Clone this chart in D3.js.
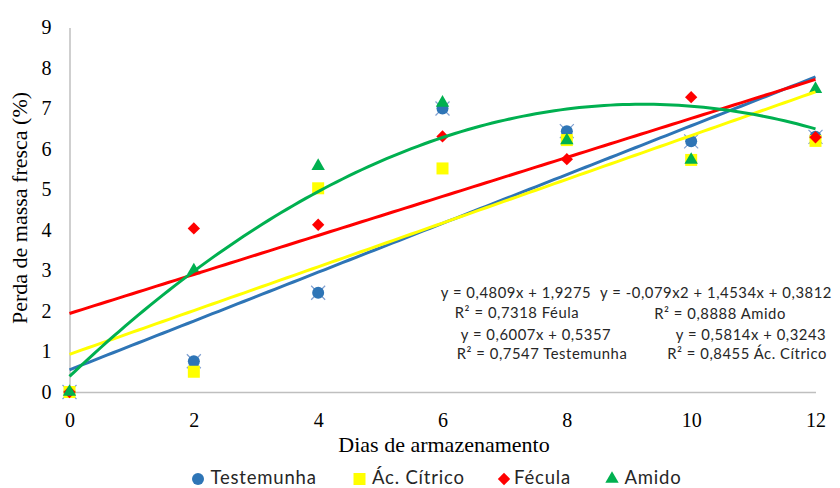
<!DOCTYPE html>
<html><head><meta charset="utf-8">
<script src="https://cdn.jsdelivr.net/npm/d3@7"></script>
<style>body{margin:0;background:#fff}svg{display:block}</style>
</head><body><svg id="c" width="840" height="488"></svg>
<script>
// ---- data ----
const days = [0, 2, 4, 6, 8, 10, 12];
const testemunha = [0, 0.76, 2.45, 7.0, 6.44, 6.19, 6.3];
const acCitrico  = [0, 0.5, 5.03, 5.52, 6.22, 5.73, 6.2];
const fecula     = [0, 4.04, 4.13, 6.31, 5.75, 7.28, 6.29];
const amido      = [0, 3.0, 5.58, 7.14, 6.21, 5.73, 7.48];
const yTicks = [0, 1, 2, 3, 4, 5, 6, 7, 8, 9];
const xTicks = [0, 2, 4, 6, 8, 10, 12];
const seriesNames = ["Testemunha", "Ác. Cítrico", "Fécula", "Amido"];
const equationTexts = [
  "y = 0,4809x + 1,9275", "R² = 0,7318 Féula",
  "y = 0,6007x + 0,5357", "R² = 0,7547 Testemunha",
  "y = -0,079x2 + 1,4534x + 0,3812", "R² = 0,8888 Amido",
  "y = 0,5814x + 0,3243", "R² = 0,8455 Ác. Cítrico"
];
const xTitle = "Dias de armazenamento";
const yTitle = "Perda de massa fresca (%)";

// ---- styles / layout ----
const colors = ["#2E75B6", "#FFFF00", "#FF0000", "#00B050"];
const eqPos = [[516, 293], [517, 313], [536, 335], [542, 354],
               [716, 293], [720, 314], [751, 335], [747, 354]];
const legendX = [198, 359.5, 504, 612];
const serif = "'Liberation Serif','Times New Roman',serif";
const sans = "Lato,'Noto Sans',sans-serif";

const svg = d3.select("#c");
svg.append("rect").attr("width", 840).attr("height", 488).attr("fill", "#fff");

const x = d3.scaleLinear().domain([0, 12]).range([69.5, 815.5]);
const y = d3.scaleLinear().domain([0, 9]).range([392, 27.5]);

// axes
const gx = svg.append("g").attr("transform", "translate(0,392)")
  .call(d3.axisBottom(x).tickValues(xTicks).tickSize(0).tickPadding(21).tickFormat(d3.format("d")));
const gy = svg.append("g").attr("transform", "translate(69.5,0)")
  .call(d3.axisLeft(y).tickValues(yTicks).tickSize(0).tickPadding(18).tickFormat(d3.format("d")));
[gx, gy].forEach(g => {
  g.select(".domain").attr("stroke", "#BFBFBF").attr("stroke-width", 1.5);
  g.selectAll("text").attr("font-family", serif).attr("font-size", 20).attr("fill", "#000");
});

svg.append("text").attr("x", 444).attr("y", 452).attr("text-anchor", "middle")
  .attr("font-family", serif).attr("font-size", 22).attr("fill", "#000").text(xTitle);
svg.append("text").attr("transform", "translate(27,208) rotate(-90)").attr("text-anchor", "middle")
  .attr("font-family", serif).attr("font-size", 22).attr("fill", "#000").text(yTitle);

// symbols
const symCircle = d3.symbol(d3.symbolCircle, Math.PI * 36)();
const symSquare = d3.symbol(d3.symbolSquare, 144)();
const symDiamond = d3.symbol(d3.symbolSquare, 76)();
const symTriangle = d3.symbol(d3.symbolTriangle, 78)();
const shapes = [
  {p: symCircle, rot: 0}, {p: symSquare, rot: 0},
  {p: symDiamond, rot: 45}, {p: symTriangle, rot: 0}
];
const allSeries = [testemunha, acCitrico, fecula, amido];

// x marks behind Testemunha
const gm = svg.append("g");
gm.selectAll("path.xm").data(days.map((d, i) => [d, testemunha[i]])).join("path")
  .attr("d", "M-7,-7L7,7M-7,7L7,-7")
  .attr("transform", d => `translate(${x(d[0])},${y(d[1])})`)
  .attr("stroke", "#7F9FD0").attr("stroke-width", 1.2).attr("fill", "none");

allSeries.forEach((vals, si) => {
  gm.append("g").selectAll("path").data(days.map((d, i) => [d, vals[i]])).join("path")
    .attr("d", shapes[si].p)
    .attr("transform", d => `translate(${x(d[0])},${y(d[1])}) rotate(${shapes[si].rot})`)
    .attr("fill", colors[si]);
});

// regressions
function linFit(xs, ys) {
  const mx = d3.mean(xs), my = d3.mean(ys);
  const sxy = d3.sum(xs, (v, i) => (v - mx) * (ys[i] - my));
  const sxx = d3.sum(xs, v => (v - mx) * (v - mx));
  const b = sxy / sxx;
  return t => my + b * (t - mx);
}
function quadFit(xs, ys) {
  const S = k => d3.sum(xs, v => Math.pow(v, k));
  const T = k => d3.sum(xs, (v, i) => Math.pow(v, k) * ys[i]);
  const A = [[S(0), S(1), S(2), T(0)], [S(1), S(2), S(3), T(1)], [S(2), S(3), S(4), T(2)]];
  for (let i = 0; i < 3; i++) {
    for (let j = i + 1; j < 3; j++) {
      const f = A[j][i] / A[i][i];
      for (let k = i; k < 4; k++) A[j][k] -= f * A[i][k];
    }
  }
  const c = [0, 0, 0];
  for (let i = 2; i >= 0; i--) {
    let s = A[i][3];
    for (let k = i + 1; k < 3; k++) s -= A[i][k] * c[k];
    c[i] = s / A[i][i];
  }
  return t => c[0] + c[1] * t + c[2] * t * t;
}
const fits = [linFit(days, testemunha), linFit(days, acCitrico), linFit(days, fecula), quadFit(days, amido)];
const ts = d3.range(0, 12.0001, 0.1);
const line = d3.line().x(d => x(d[0])).y(d => y(d[1]));
fits.forEach((f, si) => {
  svg.append("path").datum(ts.map(t => [t, f(t)]))
    .attr("d", line).attr("fill", "none").attr("stroke", colors[si])
    .attr("stroke-width", 3).attr("stroke-linecap", "butt");
});

// equation labels
svg.append("g").selectAll("text").data(equationTexts).join("text")
  .attr("x", (d, i) => eqPos[i][0]).attr("y", (d, i) => eqPos[i][1])
  .attr("dy", "0.35em").attr("text-anchor", "middle")
  .attr("font-family", sans).attr("font-size", 14.8).attr("letter-spacing", 0.55)
  .attr("fill", "#262626")
  .text(d => d);

// legend
const lg = svg.append("g");
seriesNames.forEach((name, si) => {
  const lx = legendX[si];
  lg.append("path").attr("d", shapes[si].p)
    .attr("transform", `translate(${lx},479) rotate(${shapes[si].rot})`)
    .attr("fill", colors[si]);
  lg.append("text").attr("x", lx + (si === 2 ? 10 : 12.5)).attr("y", 484)
    .attr("font-family", sans).attr("font-size", 18.5).attr("letter-spacing", 0.8)
    .attr("fill", "#262626").text(name);
});
</script></body></html>
